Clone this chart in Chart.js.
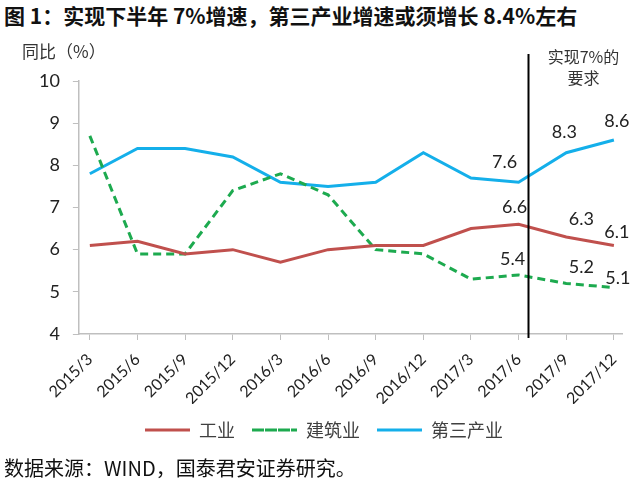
<!DOCTYPE html>
<html>
<head>
<meta charset="utf-8">
<script src="https://cdn.jsdelivr.net/npm/chart.js@4"></script>
<style>
    body { margin: 0; background: #fff; width: 640px; height: 486px; overflow: hidden; position: relative; }
    #title { position: absolute; left: 4px; top: 0px; font: bold 21px "Noto Sans CJK SC", sans-serif; color: #111; white-space: nowrap; }
    #source { position: absolute; left: 4px; top: 453px; font: 20px "Noto Sans CJK SC", sans-serif; color: #111; white-space: nowrap; }
    #wrap { position: absolute; left: 0; top: 0; width: 640px; height: 486px; }
</style>
</head>
<body>
<div id="title">图 1：实现下半年 7%增速，第三产业增速或须增长 8.4%左右</div>
<div id="wrap"><canvas id="growthChart"></canvas></div>
<div id="source">数据来源：WIND，国泰君安证券研究。</div>
<script>
const categories = ['2015/3', '2015/6', '2015/9', '2015/12', '2016/3', '2016/6', '2016/9', '2016/12', '2017/3', '2017/6', '2017/9', '2017/12'];
const industry = [6.1, 6.2, 5.9, 6.0, 5.7, 6.0, 6.1, 6.1, 6.5, 6.6, 6.3, 6.1];
const construction = [8.7, 5.9, 5.9, 7.4, 7.8, 7.3, 6.0, 5.9, 5.3, 5.4, 5.2, 5.1];
const tertiary = [7.8, 8.4, 8.4, 8.2, 7.6, 7.5, 7.6, 8.3, 7.7, 7.6, 8.3, 8.6];
const yTicks = [4, 5, 6, 7, 8, 9, 10];
const labelledIndexes = [9, 10, 11];
const cutoffPosition = 9.2; // between 2017/6 and 2017/9

const numFont = '"Lato", "Noto Sans CJK SC", sans-serif';
const cjkFont = '"Noto Sans CJK SC", sans-serif';

function toPoints(values) {
    return values.map((v, i) => ({ x: i, y: v }));
}

// label offsets per series (dx, dy) for the last three points
const labelOffsets = {
    0: [[-4, -17], [15, -18], [3, -13]],
    1: [[-6, -16], [15, -16], [4, -9]],
    2: [[-14, -20], [-2, -20], [3, -19]]
};

const extrasPlugin = {
    id: 'extras',
    afterDatasetsDraw(chart) {
        const ctx = chart.ctx;
        const xs = chart.scales.x;
        const area = chart.chartArea;
        ctx.save();

        // vertical divider
        const cx = Math.round(xs.getPixelForValue(cutoffPosition)) + 0.5;
        ctx.strokeStyle = '#000';
        ctx.lineWidth = 2;
        ctx.beginPath();
        ctx.moveTo(cx, area.top - 27);
        ctx.lineTo(cx, area.bottom + 4);
        ctx.stroke();

        ctx.fillStyle = '#333';
        ctx.font = '16px ' + cjkFont;
        ctx.textAlign = 'center';
        ctx.textBaseline = 'middle';
        ctx.fillText('实现7%的', cx + 55, area.top - 24);
        ctx.fillText('要求', cx + 55, area.top - 3);

        // y unit label
        ctx.textAlign = 'left';
        ctx.font = '17px ' + cjkFont;
        ctx.fillText('同比（%）', 22, area.top - 29);

        // data labels
        ctx.font = '18px ' + numFont;
        ctx.fillStyle = '#222';
        ctx.textAlign = 'center';
        chart.data.datasets.forEach((ds, di) => {
            const meta = chart.getDatasetMeta(di);
            labelledIndexes.forEach((idx, k) => {
                const pt = meta.data[idx];
                const off = labelOffsets[di][k];
                ctx.fillText(ds.data[idx].y.toFixed(1), pt.x + off[0], pt.y + off[1]);
            });
        });
        ctx.restore();
    }
};

const ctx = document.getElementById('growthChart').getContext('2d');
new Chart(ctx, {
    type: 'line',
    data: {
        datasets: [
            {
                label: '工业',
                data: toPoints(industry),
                borderColor: '#C0504D',
                backgroundColor: '#C0504D',
                borderWidth: 3,
                pointRadius: 0,
                tension: 0
            },
            {
                label: '建筑业',
                data: toPoints(construction),
                borderColor: '#1DAA4F',
                backgroundColor: '#1DAA4F',
                borderWidth: 3,
                borderDash: [8, 5],
                pointRadius: 0,
                tension: 0
            },
            {
                label: '第三产业',
                data: toPoints(tertiary),
                borderColor: '#14AFEA',
                backgroundColor: '#14AFEA',
                borderWidth: 3,
                pointRadius: 0,
                tension: 0
            }
        ]
    },
    options: {
        responsive: true,
        maintainAspectRatio: false,
        animation: false,
        layout: {
            padding: { top: 81, left: 26, right: 18, bottom: 37 }
        },
        plugins: {
            legend: {
                position: 'bottom',
                labels: {
                    boxWidth: 45,
                    boxHeight: 0,
                    padding: 17,
                    color: '#404040',
                    font: { size: 18, family: cjkFont }
                }
            },
            tooltip: { enabled: false }
        },
        scales: {
            x: {
                type: 'linear',
                min: -0.23,
                max: 11.17,
                afterBuildTicks: function(scale) {
                    scale.ticks = categories.map((c, i) => ({ value: i }));
                },
                afterFit: function(scale) {
                    scale.height = 70;
                },
                ticks: {
                    minRotation: 45,
                    maxRotation: 45,
                    padding: 10,
                    color: '#222',
                    font: { size: 16, family: numFont },
                    callback: function(value) {
                        return categories[value];
                    }
                },
                grid: { drawOnChartArea: false, tickLength: 6, color: '#BFBFBF' },
                border: { color: '#BFBFBF', width: 1.5 }
            },
            y: {
                min: 4,
                max: 10,
                afterBuildTicks: function(scale) {
                    scale.ticks = yTicks.map(v => ({ value: v }));
                },
                ticks: {
                    color: '#222',
                    padding: 13,
                    font: { size: 18, family: numFont }
                },
                grid: { drawOnChartArea: false, tickLength: 6, color: '#BFBFBF' },
                border: { color: '#BFBFBF', width: 1.5 }
            }
        }
    },
    plugins: [extrasPlugin]
});
</script>
</body>
</html>
